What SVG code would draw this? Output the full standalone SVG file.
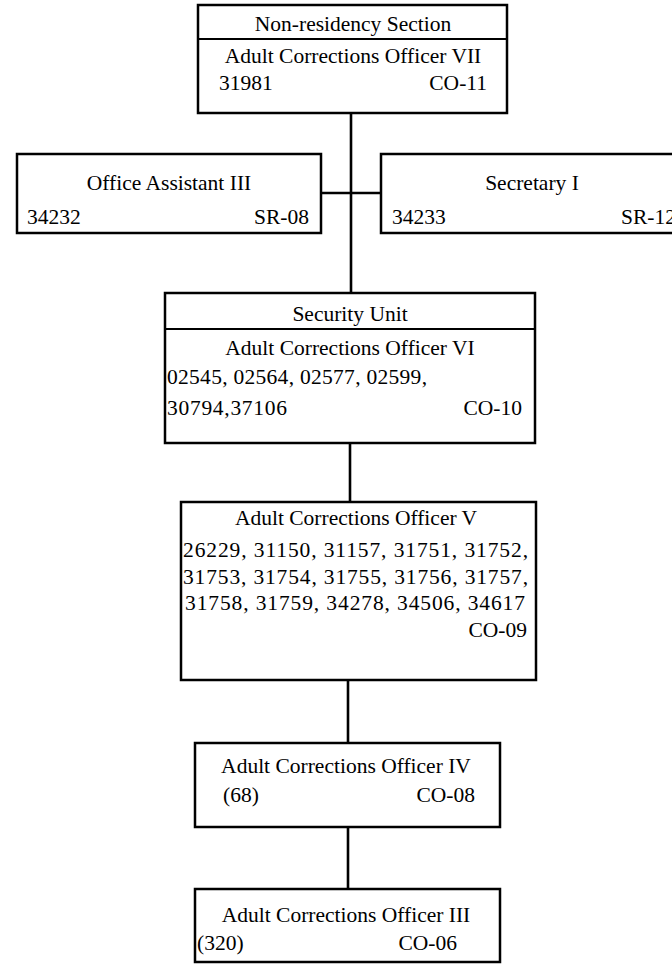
<svg xmlns="http://www.w3.org/2000/svg" width="672" height="967" viewBox="0 0 672 967">
<style>
.box{fill:#fff;stroke:#000;stroke-width:2.5}
.div{stroke:#000;stroke-width:2.2}
.con{stroke:#000;stroke-width:2.6;fill:none}
text{font-family:"Liberation Serif","Times New Roman",Times,serif;font-size:21.5px;fill:#000}
.c{text-anchor:middle}
.r{text-anchor:end}
</style>
<rect width="672" height="967" fill="#fff"/>
<g id="connectors">
<line class="con" x1="351" y1="113" x2="351" y2="293"/>
<line class="con" x1="321" y1="193" x2="381" y2="193"/>
<line class="con" x1="350" y1="443" x2="350" y2="502"/>
<line class="con" x1="348" y1="680" x2="348" y2="743"/>
<line class="con" x1="348" y1="827" x2="348" y2="889"/>
</g>
<g font-family="Liberation Serif, Times New Roman, serif">
<g id="nonresidency">
<rect class="box" x="198" y="5" width="309" height="108"/>
<line class="div" x1="198" y1="39" x2="507" y2="39"/>
<text class="c" x="353" y="31">Non-residency Section</text>
<text class="c" x="353" y="63">Adult Corrections Officer VII</text>
<text x="219" y="90">31981</text>
<text class="r" x="487" y="90">CO-11</text>
</g>
<g id="officeassistant">
<rect class="box" x="17" y="154" width="304" height="79"/>
<text class="c" x="169" y="190">Office Assistant III</text>
<text x="27" y="224">34232</text>
<text class="r" x="309" y="224">SR-08</text>
</g>
<g id="secretary">
<rect class="box" x="381" y="154" width="302" height="79"/>
<text class="c" x="532" y="190">Secretary I</text>
<text x="392" y="224">34233</text>
<text x="621" y="224">SR-12</text>
</g>
<g id="security">
<rect class="box" x="165" y="293" width="370" height="150"/>
<line class="div" x1="165" y1="329" x2="535" y2="329"/>
<text class="c" x="350" y="321">Security Unit</text>
<text class="c" x="350" y="355">Adult Corrections Officer VI</text>
<text x="167" y="384" textLength="260" lengthAdjust="spacing">02545, 02564, 02577, 02599,</text>
<text x="167" y="415" textLength="120" lengthAdjust="spacing">30794,37106</text>
<text class="r" x="522" y="415">CO-10</text>
</g>
<g id="aco5">
<rect class="box" x="181" y="502" width="355" height="178"/>
<text class="c" x="356" y="525">Adult Corrections Officer V</text>
<text x="183" y="557" textLength="345" lengthAdjust="spacing">26229, 31150, 31157, 31751, 31752,</text>
<text x="183" y="584" textLength="345" lengthAdjust="spacing">31753, 31754, 31755, 31756, 31757,</text>
<text x="185" y="610" textLength="340" lengthAdjust="spacing">31758, 31759, 34278, 34506, 34617</text>
<text class="r" x="527" y="637">CO-09</text>
</g>
<g id="aco4">
<rect class="box" x="195" y="743" width="305" height="84"/>
<text class="c" x="346" y="773">Adult Corrections Officer IV</text>
<text x="223" y="802">(68)</text>
<text class="r" x="475" y="802">CO-08</text>
</g>
<g id="aco3">
<rect class="box" x="195" y="889" width="305" height="73"/>
<text class="c" x="346" y="922">Adult Corrections Officer III</text>
<text x="197" y="950">(320)</text>
<text class="r" x="457" y="950">CO-06</text>
</g>
</g>
</svg>
